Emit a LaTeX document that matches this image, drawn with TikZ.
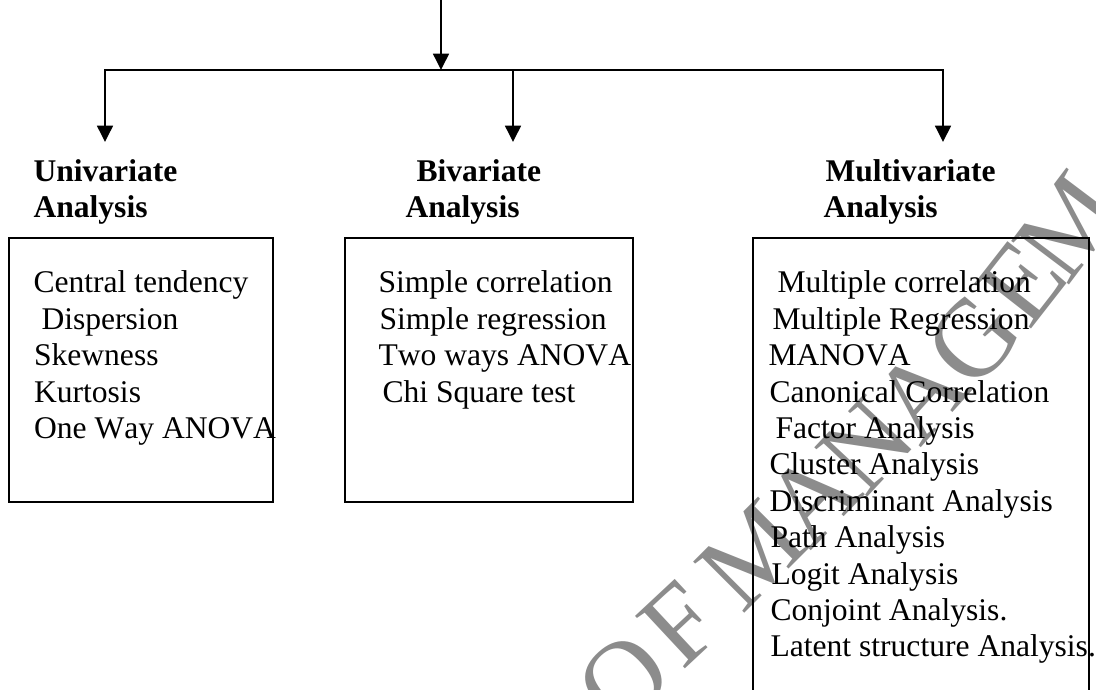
\documentclass[tikz,border=0pt]{standalone}
\usepackage{fontspec}
\setmainfont{Liberation Serif}[Kerning=Off]
\usetikzlibrary{arrows.meta,fit}
\begin{document}
\begin{tikzpicture}[x=0.38pt,y=-0.38pt,
  wire/.style={line width=0.8pt},
  feed/.style={wire,-{Triangle[length=6.2pt,width=6pt]}},
  panel/.style={draw,line width=0.8pt,inner sep=0pt},
  head/.style={anchor=base west,inner sep=0pt,font=\fontsize{12}{14}\selectfont\bfseries},
  item/.style={anchor=base west,inner sep=0pt,font=\fontsize{12}{14}\selectfont},
  stamp/.style={text=black!45,font=\fontsize{42}{44}\selectfont,inner sep=0pt}]
\useasboundingbox (0,0) rectangle (1096,690);

% background stamp lettering
\node[stamp,rotate=42] (wm1) at (624,680) {O};
\node[stamp,rotate=43] (wm2) at (680,624) {F};
\node[stamp,rotate=45] (wm3) at (752,555) {M};
\node[stamp,rotate=46] (wm4) at (812,497) {A};
\node[stamp,rotate=47] (wm5) at (866,446) {N};
\node[stamp,rotate=48] (wm6) at (920,394) {A};
\node[stamp,rotate=50] (wm7) at (974,340) {G};
\node[stamp,rotate=52] (wm8) at (1022,283) {E};
\node[stamp,rotate=53] (wm9) at (1068,226) {M};

% connectors
\coordinate (src) at (441,0);
\coordinate (hub) at (441,70);
\coordinate (jm) at (513,70);
\coordinate (tl) at (105,142);
\coordinate (tm) at (513,142);
\coordinate (tr) at (943,142);
\draw[feed] (src) -- (hub);
\draw[feed] (jm) -| (tl);
\draw[feed] (jm) -| (tr);
\draw[feed] (jm) -- (tm);

% panels
\node[panel,fit={(9,238)(273,502)}] (uniBox) {};
\node[panel,fit={(345,238)(633,502)}] (biBox) {};
\coordinate (mbl) at (753,692);
\coordinate (mtl) at (753,238);
\coordinate (mtr) at (1089,238);
\coordinate (mbr) at (1089,692);
\draw[wire] (mbl) -- (mtl) -- (mtr) -- (mbr);

% headings
\node[head] (uniH1) at (33,182) {Univariate};
\node[head] (uniH2) at (33,218) {Analysis};
\node[head] (biH1) at (416,182) {Bivariate};
\node[head] (biH2) at (405,218) {Analysis};
\node[head] (mulH1) at (825,182) {Multivariate};
\node[head] (mulH2) at (823,218) {Analysis};

% univariate items
\node[item] (u1) at (33,293) {Central tendency};
\node[item] (u2) at (41,329.4) {Dispersion};
\node[item] (u3) at (33.5,365.8) {Skewness};
\node[item] (u4) at (33.5,402.2) {Kurtosis};
\node[item] (u5) at (33.5,438.6) {One Way ANOVA};

% bivariate items
\node[item] (b1) at (378,293) {Simple correlation};
\node[item] (b2) at (379,329.4) {Simple regression};
\node[item] (b3) at (378,365.8) {Two ways ANOVA};
\node[item] (b4) at (382,402.2) {Chi Square test};

% multivariate items
\node[item] (m1) at (777,293) {Multiple correlation};
\node[item] (m2) at (772,329.4) {Multiple Regression};
\node[item] (m3) at (768,365.8) {MANOVA};
\node[item] (m4) at (769,402.2) {Canonical Correlation};
\node[item] (m5) at (775,438.6) {Factor Analysis};
\node[item] (m6) at (769,475) {Cluster Analysis};
\node[item] (m7) at (769,511.4) {Discriminant Analysis};
\node[item] (m8) at (770,547.8) {Path Analysis};
\node[item] (m9) at (771,584.2) {Logit Analysis};
\node[item] (m10) at (770,620.6) {Conjoint Analysis.};
\node[item] (m11) at (770,657) {Latent structure Analysis.};
\end{tikzpicture}
\end{document}
